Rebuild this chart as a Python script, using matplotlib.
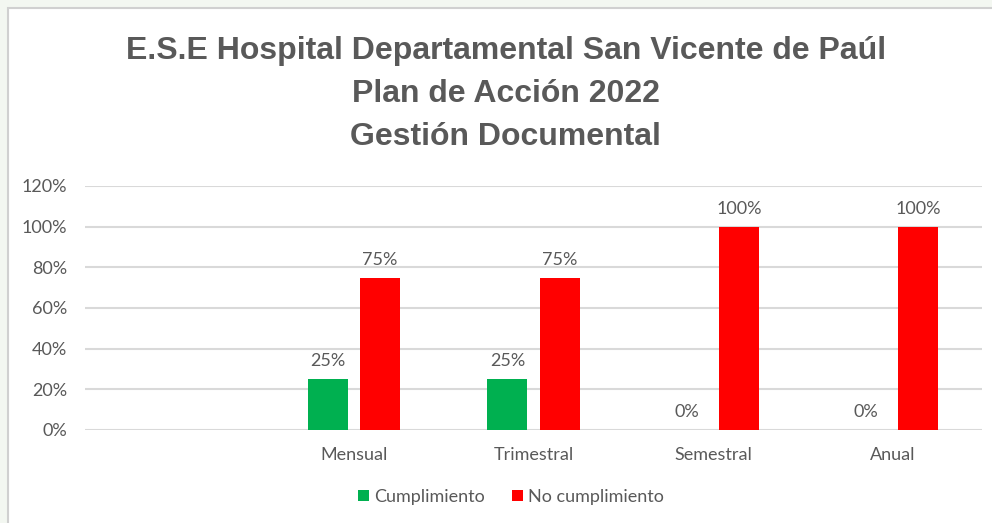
import numpy as np
import matplotlib.pyplot as plt
from matplotlib.patches import Rectangle

# data
categories = ["", "Mensual", "Trimestral", "Semestral", "Anual"]
cumplimiento = [np.nan, 0.25, 0.25, 0.0, 0.0]
no_cumplimiento = [np.nan, 0.75, 0.75, 1.0, 1.0]
series_names = ["Cumplimiento", "No cumplimiento"]
yticks = [0, 0.2, 0.4, 0.6, 0.8, 1.0, 1.2]

title_lines = ["E.S.E Hospital Departamental San Vicente de Paúl",
               "Plan de Acción 2022",
               "Gestión Documental"]

green = "#00b050"
red = "#ff0000"
grey_text = "#595959"
grid_col = "#d9d9d9"

fig = plt.figure(figsize=(9.92, 5.23), dpi=100)
fig.patch.set_facecolor("#f3f7f1")

# white chart area with thin border
W, H = 992, 523
fig.patches.append(Rectangle((8 / W, -0.01), 1.0, 1 - 8 / H + 0.01,
                             transform=fig.transFigure, facecolor="white",
                             edgecolor="#d0d0d0", linewidth=1.5, zorder=0))

ax = fig.add_axes([85 / W, 1 - 430 / H, (982 - 85) / W, (430 - 186) / H])
ax.set_facecolor("none")
ax.set_zorder(2)

x = np.arange(len(categories))
w = 0.223
off = 0.145
b1 = ax.bar(x - off, cumplimiento, w, color=green, label=series_names[0], zorder=3)
b2 = ax.bar(x + off, no_cumplimiento, w, color=red, label=series_names[1], zorder=3)

for bars, vals in [(b1, cumplimiento), (b2, no_cumplimiento)]:
    for r, v in zip(bars, vals):
        if np.isnan(v):
            continue
        ax.annotate(f"{v:.0%}", (r.get_x() + r.get_width() / 2, v),
                    xytext=(0, 7), textcoords="offset points", ha="center",
                    va="bottom", fontsize=13, color=grey_text, family="Lato")

ax.set_xlim(-0.5, len(categories) - 0.5)
ax.set_ylim(0, 1.2)
ax.set_yticks(yticks)
ax.set_yticklabels([f"{t:.0%}" for t in yticks])
ax.set_xticks(x)
ax.set_xticklabels(categories)
ax.tick_params(length=0, colors=grey_text, labelsize=13)
ax.tick_params(axis="x", pad=12)
ax.tick_params(axis="y", pad=13)
for lab in ax.get_xticklabels() + ax.get_yticklabels():
    lab.set_family("Lato")
ax.yaxis.grid(True, color=grid_col, linewidth=1.5, zorder=0)
ax.set_axisbelow(True)
for s in ax.spines.values():
    s.set_visible(False)

t = fig.text(0.51, 1 - 94 / H, "\n".join(title_lines), ha="center", va="center",
             fontsize=23, fontweight="bold", color=grey_text, linespacing=1.56,
             family=["Liberation Sans Narrow", "Liberation Sans"])
t.set_zorder(3)

leg = fig.legend(loc="center", bbox_to_anchor=(511 / W, 1 - 497 / H), ncol=2,
                 frameon=False, handlelength=0.6, handleheight=0.6,
                 handletextpad=0.3, columnspacing=1.5,
                 prop={"family": "Lato", "size": 13}, labelcolor=grey_text)
leg.set_zorder(3)

fig.savefig("out.png", dpi=100)
